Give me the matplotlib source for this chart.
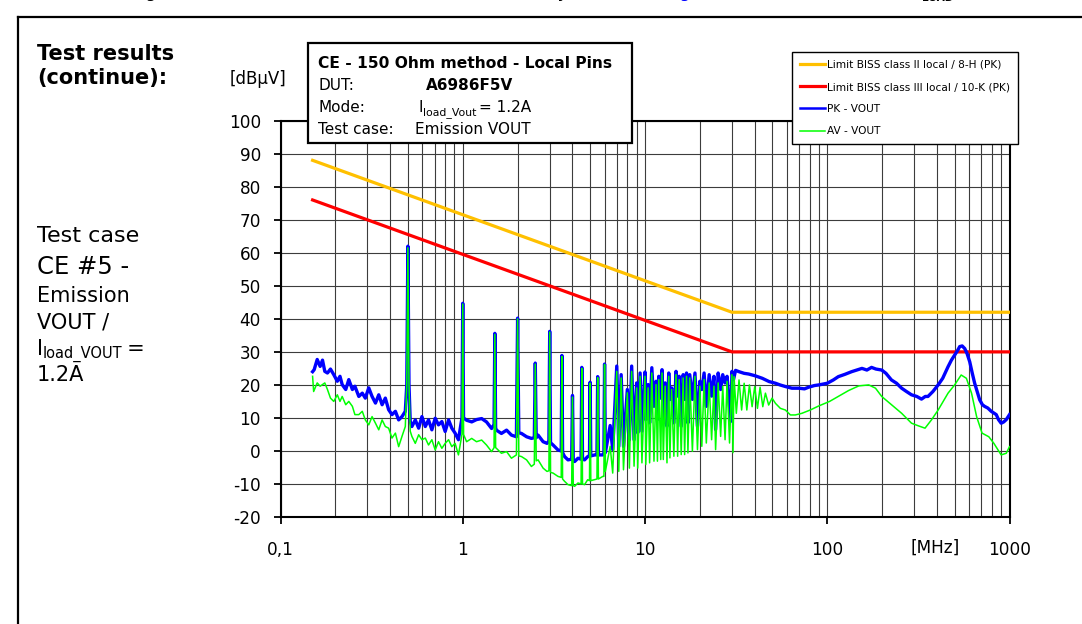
import matplotlib
matplotlib.use("Agg")
import matplotlib.pyplot as plt
from matplotlib.lines import Line2D
from matplotlib.patches import Rectangle
from matplotlib.ticker import LogLocator, NullFormatter

plt.rcParams["axes.unicode_minus"] = False

# ---------------- data ----------------
limit_freq = [0.15, 30.0, 1000.0]
limit_class2 = [88.0, 42.0, 42.0]
limit_class3 = [76.0, 30.0, 30.0]

pk_freq = [0.150, 0.153, 0.159, 0.165, 0.170, 0.175, 0.181, 0.188, 0.196, 0.205, 0.212, 0.218,
           0.228, 0.237, 0.248, 0.256, 0.269, 0.281, 0.292, 0.305, 0.318, 0.332, 0.346, 0.361,
           0.376, 0.392, 0.409, 0.427, 0.445, 0.464, 0.484, 0.493, 0.500, 0.507, 0.515, 0.526,
           0.549, 0.573, 0.597, 0.623, 0.649, 0.677, 0.706, 0.736, 0.768, 0.801, 0.836, 0.871,
           0.908, 0.947, 0.990, 1.000, 1.010, 1.05, 1.12, 1.19, 1.27, 1.35, 1.44, 1.485, 1.50,
           1.515, 1.53, 1.63, 1.74, 1.85, 1.97, 2.00, 2.03, 2.10, 2.24, 2.38, 2.47, 2.50, 2.53,
           2.59, 2.76, 2.90, 2.97, 3.00, 3.03, 3.13, 3.33, 3.47, 3.50, 3.53, 3.62, 3.78, 3.96,
           4.00, 4.04, 4.11, 4.29, 4.46, 4.50, 4.54, 4.66, 4.85, 4.96, 5.00, 5.04, 5.30, 5.45,
           5.50, 5.55, 5.87, 5.95, 6.00, 6.06, 6.44, 6.65, 7.00, 7.18, 7.40, 7.62, 8.00, 8.21,
           8.45, 8.71, 9.00, 9.12, 9.40, 9.62, 10.0, 10.1, 10.4, 10.6, 10.9, 11.2, 11.5, 11.7,
           11.9, 12.2, 12.4, 12.6, 12.9, 13.2, 13.5, 13.7, 14.0, 14.4, 14.8, 15.1, 15.4, 15.8,
           16.2, 16.5, 16.9, 17.2, 17.6, 18.2, 18.8, 19.4, 20.0, 20.5, 21.1, 21.7, 22.5, 23.2,
           23.9, 24.4, 25.2, 26.0, 26.7, 27.5, 28.2, 29.1, 29.6, 30.0, 30.6, 31.4, 32.8, 35.0,
           37.0, 40.0, 44.0, 48.0, 52.0, 55.0, 59.0, 64.0, 70.0, 75.0, 79.0, 85.0, 90.0, 100.0,
           108.0, 115.0, 125.0, 136.0, 145.0, 155.0, 165.0, 175.0, 185.0, 199.0, 210.0, 225.0,
           240.0, 256.0, 272.0, 290.0, 310.0, 329.0, 345.0, 357.0, 380.0, 406.0, 430.0, 460.0,
           480.0, 500.0, 520.0, 533.0, 550.0, 568.0, 585.0, 605.0, 625.0, 644.0, 665.0, 686.0,
           710.0, 730.0, 760.0, 794.0, 820.0, 846.0, 870.0, 900.0, 930.0, 960.0, 1000.0]
pk_dbuv = [24.0, 24.6, 27.7, 25.6, 27.5, 24.1, 23.6, 24.8, 23.1, 21.1, 22.6, 20.1,
           18.6, 21.6, 18.6, 19.6, 16.5, 17.5, 16.0, 19.1, 16.5, 14.5, 17.0, 14.0,
           16.0, 12.5, 11.0, 12.0, 9.4, 10.4, 12.0, 20.0, 62.0, 20.0, 9.0, 7.4,
           9.4, 6.9, 10.4, 7.4, 9.4, 6.4, 9.9, 7.9, 8.9, 5.9, 9.4, 6.9,
           5.4, 3.4, 10.0, 44.7, 10.0, 9.3, 8.8, 9.5, 9.8, 8.8, 6.8, 8.0, 35.6,
           7.0, 6.3, 5.3, 6.3, 4.8, 4.3, 40.2, 5.5, 5.3, 4.3, 3.8, 4.0, 26.6, 4.0,
           4.8, 2.8, 2.3, 3.0, 36.2, 2.5, 1.8, 0.3, 0.0, 28.9, -0.5, -1.7, -2.7, -2.5,
           16.8, -3.0, -3.2, -2.2, -2.5, 25.3, -2.5, -2.7, -1.7, -1.5, 20.8, -1.5, -1.2, -1.2,
           22.5, -1.2, -1.2, -1.0, 26.3, -0.5, 7.7, 0.4, 25.7, 1.4, 23.1, 1.4, 18.6, 3.4,
           25.7, 3.4, 20.6, 5.5, 23.6, 6.0, 23.9, 9.5, 20.1, 8.5, 25.2, 13.5, 21.1, 9.5,
           22.6, 16.0, 24.6, 8.5, 20.6, 7.5, 23.6, 15.6, 19.1, 8.5, 24.1, 16.6, 22.6, 7.5,
           23.1, 15.6, 23.6, 8.5, 23.1, 15.6, 23.6, 7.5, 21.1, 18.6, 23.6, 13.5, 23.1, 16.6,
           22.6, 6.5, 23.6, 18.6, 23.1, 20.6, 22.6, 13.5, 9.0, 24.1, 21.6, 24.4, 24.0, 23.5,
           23.3, 22.8, 22.0, 21.0, 20.5, 20.0, 19.5, 19.0, 19.0, 18.8, 19.3, 19.8, 20.0, 20.5,
           21.5, 22.5, 23.2, 24.0, 24.5, 25.0, 24.5, 25.3, 24.8, 24.5, 23.5, 21.5,
           20.5, 19.0, 18.0, 17.0, 16.5, 15.7, 16.5, 16.5, 18.0, 20.0, 22.0, 25.5,
           27.5, 29.0, 30.5, 31.6, 31.8, 31.0, 29.5, 27.0, 23.5, 20.5, 18.0, 15.5,
           14.0, 13.5, 13.0, 12.0, 11.5, 11.0, 9.5, 8.4, 8.8, 9.5, 11.0]

av_freq = [0.150, 0.152, 0.159, 0.165, 0.170, 0.175, 0.181, 0.188, 0.196, 0.205, 0.212, 0.218,
           0.228, 0.237, 0.248, 0.256, 0.269, 0.281, 0.292, 0.305, 0.318, 0.332, 0.346, 0.361,
           0.376, 0.392, 0.409, 0.427, 0.445, 0.464, 0.484, 0.493, 0.500, 0.507, 0.515, 0.526,
           0.549, 0.573, 0.597, 0.623, 0.649, 0.677, 0.706, 0.736, 0.768, 0.801, 0.836, 0.871,
           0.908, 0.947, 0.990, 1.000, 1.010, 1.05, 1.12, 1.19, 1.27, 1.35, 1.44, 1.485, 1.50,
           1.515, 1.53, 1.63, 1.74, 1.85, 1.97, 2.00, 2.03, 2.10, 2.24, 2.38, 2.47, 2.50, 2.53,
           2.59, 2.76, 2.90, 2.97, 3.00, 3.03, 3.13, 3.33, 3.47, 3.50, 3.53, 3.62, 3.78, 3.96,
           4.00, 4.04, 4.11, 4.29, 4.46, 4.50, 4.54, 4.66, 4.85, 4.96, 5.00, 5.04, 5.30, 5.45,
           5.50, 5.55, 5.87, 5.95, 6.00, 6.06, 6.44, 6.65, 7.00, 7.18, 7.40, 7.62, 8.00, 8.21,
           8.45, 8.71, 9.00, 9.12, 9.40, 9.62, 10.0, 10.1, 10.4, 10.6, 10.9, 11.2, 11.5, 11.7,
           11.9, 12.2, 12.4, 12.6, 12.9, 13.2, 13.5, 13.7, 14.0, 14.4, 14.8, 15.1, 15.4, 15.8,
           16.2, 16.5, 16.9, 17.2, 17.6, 18.2, 18.8, 19.4, 20.0, 20.5, 21.1, 21.7, 22.5, 23.2,
           23.9, 24.4, 25.2, 26.0, 26.7, 27.5, 28.2, 29.1, 30.0, 30.4, 30.8, 31.7, 32.8, 33.9,
           35.0, 36.2, 37.4, 38.7, 40.0, 41.4, 42.8, 44.3, 45.8, 47.7, 49.8, 52.0, 55.3, 58.9,
           62.8, 66.8, 72.6, 80.7, 89.6, 103.0, 115.0, 131.0, 149.0, 169.0, 184.0, 199.0,
           225.0, 256.0, 290.0, 320.0, 344.0, 373.0, 406.0, 460.0, 500.0, 543.0, 580.0, 619.0,
           660.0, 707.0, 770.0, 821.0, 860.0, 900.0, 960.0, 1000.0]
av_dbuv = [22.6, 18.0, 20.6, 19.6, 20.1, 20.6, 18.6, 16.0, 15.0, 17.0, 15.0, 16.5,
           14.0, 15.0, 13.5, 11.0, 11.0, 12.0, 9.4, 7.9, 10.4, 8.4, 6.4, 9.4,
           7.4, 6.9, 3.9, 5.4, 1.3, 4.4, 7.4, 20.0, 61.5, 20.0, 6.0, 4.4,
           2.3, 4.9, 3.4, 3.9, 1.8, 3.4, 0.3, 2.8, 0.8, 2.3, 3.4, 1.3,
           2.3, -1.2, 5.0, 44.5, 5.0, 2.8, 3.8, 2.8, 3.3, 1.8, -0.2, 1.0, 35.3,
           1.0, 0.8, -0.7, -0.2, -2.2, -1.2, 40.0, -1.5, -1.7, -2.7, -4.7, -4.0, 26.3, -3.0,
           -2.7, -5.2, -6.2, -6.0, 36.0, -6.5, -6.7, -7.7, -8.0, 28.6, -8.5, -9.2, -10.2, -10.5,
           16.3, -10.5, -10.7, -9.7, -10.0, 25.0, -10.0, -10.2, -8.7, -9.0, 20.5, -9.0, -8.7, -8.5,
           22.2, -8.5, -7.7, -7.7, 26.2, -6.2, 1.4, -6.7, 24.1, -6.2, 22.1, -5.7, 17.6, -5.2,
           24.1, -4.6, 19.1, -5.2, 22.6, -3.6, 22.6, -4.1, 19.1, -3.6, 23.6, -3.1, 20.1, -3.1,
           21.6, -2.6, 23.6, -2.6, 19.6, -3.6, 22.6, -2.1, 18.6, -1.6, 23.1, -1.6, 21.6, -1.1,
           22.1, -1.1, 22.6, -0.6, 22.1, -0.1, 22.6, 0.4, 19.6, 1.4, 21.6, 2.4, 20.6, 3.4,
           19.6, 0.4, 20.6, 4.4, 19.6, 3.4, 21.1, 2.4, 23.1, -0.5, 22.5, 11.4, 21.5, 12.4,
           20.5, 12.4, 20.0, 13.4, 19.5, 12.9, 19.3, 13.4, 17.5, 13.9, 16.0, 14.4, 12.9, 12.4,
           10.9, 10.9, 11.4, 12.4, 13.6, 15.0, 16.5, 18.3, 19.7, 20.0, 19.0, 16.5,
           14.0, 11.4, 8.4, 7.5, 6.9, 9.4, 12.4, 17.5, 20.0, 23.0, 22.0, 17.5,
           10.4, 5.4, 4.3, 2.3, 0.5, -1.2, -0.7, 1.3]

x_ticks = [0.1, 1, 10, 100, 1000]
x_tick_labels = ["0,1", "1", "10", "100", "1000"]
y_ticks = [-20, -10, 0, 10, 20, 30, 40, 50, 60, 70, 80, 90, 100]

legend_labels = ["Limit BISS class II local / 8-H (PK)",
                 "Limit BISS class III local / 10-K (PK)",
                 "PK - VOUT", "AV - VOUT"]

# ---------------- figure ----------------
W, H = 1082, 624
fig = plt.figure(figsize=(W / 100, H / 100), dpi=100)
fig.patch.set_facecolor("white")


def fx(p):
    return p / W


def fy(p):
    return 1 - p / H


FONT = "DejaVu Sans"

ax = fig.add_axes([fx(280.5), fy(517), (1009.5 - 280.5) / W, (517 - 120.7) / H])
ax.set_xscale("log")
ax.set_xlim(0.1, 1000)
ax.set_ylim(-20, 100)

C_OR, C_RED, C_BLUE, C_GREEN = "#FFC000", "#FF0000", "#0000FF", "#00FF00"
ax.plot(limit_freq, limit_class2, color=C_OR, lw=2.3, zorder=3)
ax.plot(limit_freq, limit_class3, color=C_RED, lw=2.3, zorder=3)
ax.plot(pk_freq, pk_dbuv, color=C_BLUE, lw=2.4, zorder=4)
ax.plot(av_freq, av_dbuv, color=C_GREEN, lw=1.1, zorder=5)

ax.set_xticks(x_ticks)
ax.set_xticklabels(x_tick_labels)
ax.xaxis.set_minor_locator(LogLocator(base=10, subs=[2, 3, 4, 5, 6, 7, 8, 9]))
ax.xaxis.set_minor_formatter(NullFormatter())
ax.set_yticks(y_ticks)
ax.tick_params(axis="x", which="minor", length=0)
ax.tick_params(axis="both", which="major", direction="out", length=5, width=1.3,
               labelsize=12.2, color="black")
ax.tick_params(axis="y", pad=9)
ax.tick_params(axis="x", pad=12)
for lab in ax.get_xticklabels() + ax.get_yticklabels():
    lab.set_fontfamily(FONT)
ax.grid(True, which="both", axis="both", color="#3c3c3c", lw=0.8)
ax.set_axisbelow(True)
for s in ax.spines.values():
    s.set_linewidth(1.5)
    s.set_color("black")

# legend
handles = [Line2D([], [], color=C_OR, lw=2.3), Line2D([], [], color=C_RED, lw=2.3),
           Line2D([], [], color=C_BLUE, lw=1.8), Line2D([], [], color=C_GREEN, lw=1.1)]
leg = ax.legend(handles, legend_labels, loc="upper left",
                bbox_to_anchor=(fx(792), fy(52)), bbox_transform=fig.transFigure,
                prop={"family": FONT, "size": 7.6}, frameon=True, fancybox=False,
                framealpha=1, edgecolor="black", borderaxespad=0, borderpad=0.75,
                labelspacing=1.15, handlelength=2.4, handletextpad=0.15)
leg.get_frame().set_linewidth(1.0)
leg.set_zorder(20)

# axis unit labels
fig.text(fx(258), fy(79), "[dBµV]", fontsize=12, family=FONT, ha="center", va="center")
fig.text(fx(935), fy(548), "[MHz]", fontsize=12.2, family=FONT, ha="center", va="center")

# info box
fig.add_artist(Rectangle((fx(307.5), fy(143)), (632 - 307.5) / W, (143 - 42.7) / H,
                         transform=fig.transFigure, facecolor="white", edgecolor="black",
                         lw=1.6, zorder=10))

renderer = fig.canvas.get_renderer()


def seq(x, y, pieces):
    for s, size, dy, kw in pieces:
        t = fig.text(fx(x), fy(y + dy), s, fontsize=size, ha="left", va="baseline",
                     zorder=11, family=FONT, **kw)
        x += t.get_window_extent(renderer).width


def txt(x, y, s, size, **kw):
    return fig.text(fx(x), fy(y), s, fontsize=size, ha="left", va="baseline", zorder=11,
                    family=FONT, **kw)


BX = 11.0
txt(318, 68, "CE - 150 Ohm method - Local Pins", 11.2, weight="bold")
txt(318, 90, "DUT:", BX)
txt(426, 90, "A6986F5V", BX, weight="bold")
txt(318, 112, "Mode:", BX)
seq(418, 112, [("I", BX, 0, {}), ("load_Vout", 7.8, 3, {}), ("\u2009= 1.2A", BX, 0, {})])
txt(318, 134, "Test case:", BX)
txt(415, 134, "Emission VOUT", BX)

# document texts on the left
txt(37, 60, "Test results", 15, weight="bold")
txt(37, 84, "(continue):", 15, weight="bold")
txt(37, 242, "Test case", 16)
txt(37, 274, "CE #5 -", 17.5)
txt(37, 302, "Emission", 15)
txt(37, 328, "VOUT /", 15)
seq(37, 355, [("I", 15, 0, {}), ("load_VOUT", 10.5, 3, {}), ("\u2009=", 15, 0, {})])
txt(37, 381, "1.2A", 15)

# cut-off caption line at the very top of the page crop (only its lowest pixels show)
CAP = 10
CAP_Y = -1.5
txt(132, CAP_Y, "Figure 36.", CAP, weight="bold")
fig.text(fx(567), fy(CAP_Y), "Conducted emission test results summary", fontsize=CAP,
         family=FONT, weight="bold", ha="right", va="baseline")
txt(588, CAP_Y, "(see", CAP, weight="bold")
seq(666, CAP_Y, [("Figure 30", CAP, 0, {"weight": "bold", "color": "#0000FF"}),
                 (") at various I", CAP, 0, {"weight": "bold"})])
txt(922, 1.0, "LOAD", 7.5, weight="bold")

# page frame
fig.add_artist(Line2D([fx(18), 1.0], [fy(16.5), fy(16.5)], transform=fig.transFigure,
                      color="black", lw=1.6))
fig.add_artist(Line2D([fx(18), fx(18)], [fy(16.5), 0.0], transform=fig.transFigure,
                      color="black", lw=1.6))

fig.savefig("out.png", dpi=100, facecolor="white")
